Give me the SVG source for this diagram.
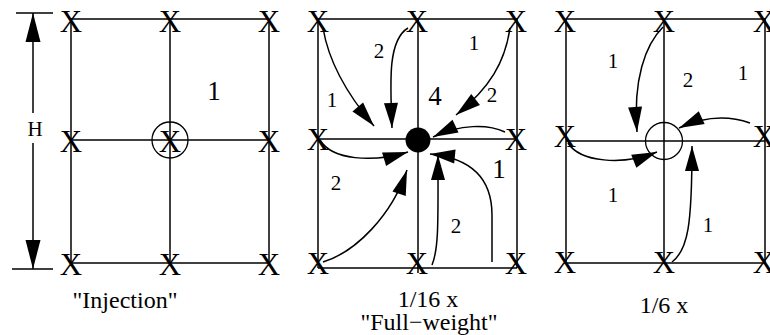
<svg xmlns="http://www.w3.org/2000/svg" width="770" height="335" viewBox="0 0 770 335">
<style>
.g{stroke:#000;stroke-width:1.5;fill:none}
.c{stroke:#000;stroke-width:1.5;fill:none;marker-end:url(#ah)}
.x{font-family:"Liberation Serif","Times New Roman",serif;font-size:31px;text-anchor:middle;fill:#000}
.s{font-family:"Liberation Serif","Times New Roman",serif;font-size:21px;text-anchor:middle;fill:#000}
.b{font-family:"Liberation Serif","Times New Roman",serif;font-size:27px;text-anchor:middle;fill:#000}
.t{font-family:"Liberation Serif","Times New Roman",serif;font-size:24px;text-anchor:middle;fill:#000}
</style>
<defs>
<marker id="ah" markerUnits="userSpaceOnUse" markerWidth="26" markerHeight="14" refX="25" refY="7" orient="auto" overflow="visible">
<path d="M0,0 L25,7 L0,14 z" fill="#000"/>
</marker>
</defs>
<rect width="770" height="335" fill="#fff"/>

<g id="dimension">
<line class="g" x1="16" y1="13" x2="53" y2="13"/>
<line class="g" x1="12" y1="269" x2="53" y2="269"/>
<line class="g" x1="33" y1="13" x2="33" y2="113"/>
<line class="g" x1="33" y1="143" x2="33" y2="269"/>
<polygon points="33,13 25.5,42 40.5,42" fill="#000"/>
<polygon points="33,269 25.5,240 40.5,240" fill="#000"/>
<text x="35" y="136" style="font-family:'Liberation Serif','Times New Roman',serif;font-size:21px;text-anchor:middle">H</text>
</g>

<g id="panel-injection">
<line class="g" x1="71" y1="19" x2="269" y2="19"/>
<line class="g" x1="71" y1="140" x2="269" y2="140"/>
<line class="g" x1="71" y1="263" x2="269" y2="263"/>
<line class="g" x1="71" y1="19" x2="71" y2="263"/>
<line class="g" x1="170" y1="19" x2="170" y2="263"/>
<line class="g" x1="269" y1="19" x2="269" y2="263"/>
<circle cx="170" cy="140" r="18" fill="none" stroke="#000" stroke-width="1.3"/>
<text class="x" x="71" y="32">X</text>
<text class="x" x="170" y="32">X</text>
<text class="x" x="269" y="32">X</text>
<text class="x" x="71" y="152">X</text>
<text class="x" x="170" y="152">X</text>
<text class="x" x="269" y="152">X</text>
<text class="x" x="71" y="275">X</text>
<text class="x" x="170" y="275">X</text>
<text class="x" x="269" y="275">X</text>
<text class="b" x="214" y="100">1</text>
<text class="t" x="125" y="308">"Injection"</text>
</g>

<g id="panel-full-weight">
<line class="g" x1="318" y1="19" x2="517" y2="19"/>
<line class="g" x1="318" y1="139" x2="517" y2="139"/>
<line class="g" x1="318" y1="268" x2="517" y2="268"/>
<line class="g" x1="318" y1="19" x2="318" y2="268"/>
<line class="g" x1="418" y1="19" x2="418" y2="273"/>
<line class="g" x1="517" y1="19" x2="517" y2="268"/>
<circle cx="418" cy="140" r="12.5" fill="#000"/>
<text class="x" x="318" y="32">X</text>
<text class="x" x="417" y="32">X</text>
<text class="x" x="516" y="32">X</text>
<text class="x" x="318" y="150">X</text>
<text class="x" x="516" y="150">X</text>
<text class="x" x="318" y="274">X</text>
<text class="x" x="417" y="274">X</text>
<text class="x" x="516" y="274">X</text>
<text class="s" x="379" y="58">2</text>
<text class="s" x="474" y="50">1</text>
<text class="s" x="332" y="107">1</text>
<text class="b" x="435" y="105">4</text>
<text class="s" x="492" y="102">2</text>
<text class="b" x="499" y="178">1</text>
<text class="s" x="336" y="190">2</text>
<text class="s" x="456" y="233">2</text>
<text class="t" x="428" y="307">1/16 x</text>
<text class="t" x="429" y="330">"Full−weight"</text>
</g>

<g id="panel-sixth">
<line class="g" x1="566" y1="19" x2="765" y2="19"/>
<line class="g" x1="566" y1="141" x2="765" y2="141"/>
<line class="g" x1="566" y1="263" x2="765" y2="263"/>
<line class="g" x1="566" y1="19" x2="566" y2="263"/>
<line class="g" x1="664" y1="19" x2="664" y2="263"/>
<line class="g" x1="765" y1="19" x2="765" y2="263"/>
<circle cx="664" cy="141" r="18.5" fill="none" stroke="#000" stroke-width="1.3"/>
<text class="x" x="565" y="32">X</text>
<text class="x" x="664" y="32">X</text>
<text class="x" x="764" y="32">X</text>
<text class="x" x="565" y="147">X</text>
<text class="x" x="764" y="147">X</text>
<text class="x" x="565" y="273">X</text>
<text class="x" x="664" y="273">X</text>
<text class="x" x="764" y="273">X</text>
<text class="s" x="613" y="68">1</text>
<text class="s" x="688" y="87">2</text>
<text class="s" x="743" y="80">1</text>
<text class="s" x="613" y="202">1</text>
<text class="s" x="708" y="232">1</text>
<text class="t" x="664" y="313">1/6 x</text>
</g>

<g id="connectors">
<path class="c" d="M323,28 C328,58 345,92 374,126"/>
<path class="c" d="M408,28 C388,40 390,80 392,128"/>
<path class="c" d="M510,28 C505,62 490,88 456,115"/>
<path class="c" d="M505,132 C488,124 460,124 433,137"/>
<path class="c" d="M320,140 C332,160 372,163 408,152"/>
<path class="c" d="M323,262 C356,252 392,215 407,170"/>
<path class="c" d="M432,265 C439,248 438,220 438,155"/>
<path class="c" d="M492,262 L492,215 C492,178 470,158 430,154"/>
<path class="c" d="M663,27 C645,45 633,80 637,132"/>
<path class="c" d="M750,123 C730,116 705,116 679,128"/>
<path class="c" d="M568,143 C580,162 622,166 657,152"/>
<path class="c" d="M672,262 C688,250 692,225 692,146"/>
</g>
</svg>
